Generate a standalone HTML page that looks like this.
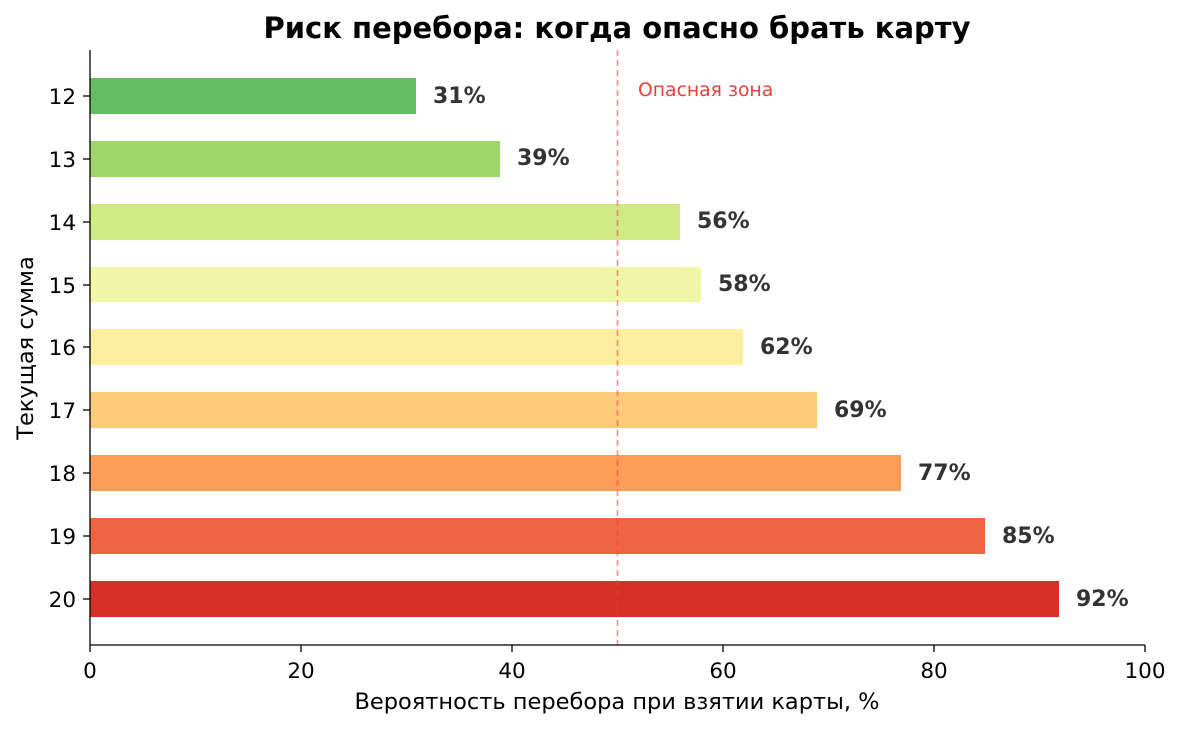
<!DOCTYPE html>
<html><head><meta charset="utf-8"><style>body{margin:0;background:#fff}svg{display:block}text{font-family:"DejaVu Sans","Liberation Sans",sans-serif}</style></head>
<body>
<svg width="1181" height="729" viewBox="0 0 1181 729">
<text x="617" y="38" font-size="29" font-weight="bold" text-anchor="middle" fill="#000">Риск перебора: когда опасно брать карту</text>
<g>
<rect x="90" y="78" width="326" height="36" fill="#66bd63"/>
<rect x="90" y="141" width="410" height="36" fill="#9ed66a"/>
<rect x="90" y="204" width="590" height="36" fill="#d0ea84"/>
<rect x="90" y="267" width="611" height="35" fill="#f0f8a8"/>
<rect x="90" y="329" width="653" height="36" fill="#feeea0"/>
<rect x="90" y="392" width="727" height="36" fill="#fecb7a"/>
<rect x="90" y="455" width="811" height="36" fill="#f99d59"/>
<rect x="90" y="518" width="895" height="36" fill="#ef6541"/>
<rect x="90" y="581" width="969" height="36" fill="#d73027"/>
</g>
<line x1="617.5" y1="50" x2="617.5" y2="645" stroke="#e8423a" stroke-opacity="0.55" stroke-width="1.6" stroke-dasharray="6,4"/>
<text x="638" y="96" font-size="18.8" fill="#e8423a">Опасная зона</text>
<g font-size="22" font-weight="bold" fill="#333">
<text x="433" y="103">31%</text>
<text x="517" y="165">39%</text>
<text x="697" y="228">56%</text>
<text x="718" y="291">58%</text>
<text x="760" y="354">62%</text>
<text x="834" y="417">69%</text>
<text x="918" y="480">77%</text>
<text x="1002" y="543">85%</text>
<text x="1076" y="606">92%</text>
</g>
<line x1="90" y1="50" x2="90" y2="645" stroke="#000" stroke-width="1.3"/>
<line x1="90" y1="645" x2="1145" y2="645" stroke="#000" stroke-width="1.3"/>
<g stroke="#000" stroke-width="1.3">
<line x1="90" y1="645" x2="90" y2="652"/><line x1="301" y1="645" x2="301" y2="652"/><line x1="512" y1="645" x2="512" y2="652"/><line x1="723" y1="645" x2="723" y2="652"/><line x1="934" y1="645" x2="934" y2="652"/><line x1="1145" y1="645" x2="1145" y2="652"/>
<line x1="83" y1="96" x2="90" y2="96"/><line x1="83" y1="159" x2="90" y2="159"/><line x1="83" y1="222" x2="90" y2="222"/><line x1="83" y1="285" x2="90" y2="285"/><line x1="83" y1="347" x2="90" y2="347"/><line x1="83" y1="410" x2="90" y2="410"/><line x1="83" y1="473" x2="90" y2="473"/><line x1="83" y1="536" x2="90" y2="536"/><line x1="83" y1="599" x2="90" y2="599"/>
</g>
<g font-size="21.5" fill="#000" text-anchor="middle">
<text x="90" y="678">0</text><text x="301" y="678">20</text><text x="512" y="678">40</text><text x="723" y="678">60</text><text x="934" y="678">80</text><text x="1145" y="678">100</text>
</g>
<g font-size="21.5" fill="#000" text-anchor="end">
<text x="76" y="104">12</text><text x="76" y="167">13</text><text x="76" y="230">14</text><text x="76" y="293">15</text><text x="76" y="355">16</text><text x="76" y="418">17</text><text x="76" y="481">18</text><text x="76" y="544">19</text><text x="76" y="607">20</text>
</g>
<text x="617" y="709" font-size="22.5" text-anchor="middle" fill="#000">Вероятность перебора при взятии карты, %</text>
<text transform="translate(33,348) rotate(-90)" font-size="22.5" text-anchor="middle" fill="#000">Текущая сумма</text>
</svg>
</body></html>
